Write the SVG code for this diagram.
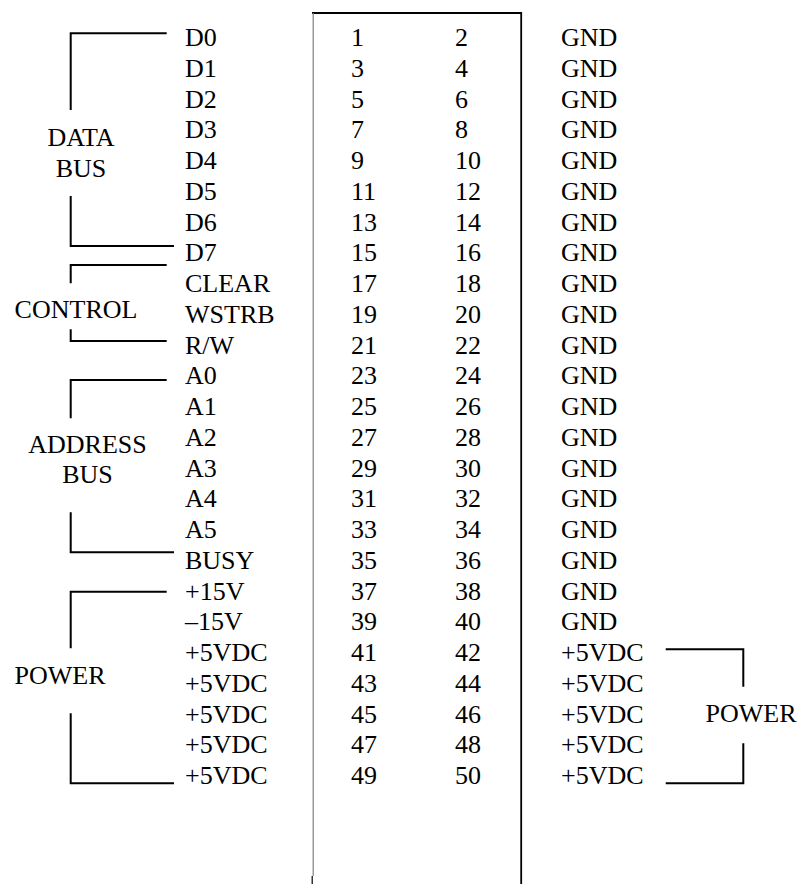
<svg xmlns="http://www.w3.org/2000/svg" width="799" height="884" viewBox="0 0 799 884">
<style>
text{font-family:"Liberation Serif","Times New Roman",serif;font-size:26px;fill:#000}
.c{text-anchor:middle}
.br{fill:none;stroke:#000;stroke-width:2}
</style>
<rect width="799" height="884" fill="#fff"/>
<g id="connector">
<path d="M312 13H522" stroke="#000" stroke-width="2" fill="none"/>
<path d="M313.2 13V876" stroke="#808080" stroke-width="1.2" fill="none"/>
<path d="M521.2 12V884" stroke="#000" stroke-width="1.8" fill="none"/>
<path d="M312.2 876V884" stroke="#000" stroke-width="1.2" fill="none"/>
<g id="pins-odd">
<text x="351" y="46">1</text><text x="351" y="76.75">3</text><text x="351" y="107.5">5</text><text x="351" y="138.25">7</text><text x="351" y="169">9</text>
<text x="351" y="199.75">11</text><text x="351" y="230.5">13</text><text x="351" y="261.25">15</text><text x="351" y="292">17</text><text x="351" y="322.75">19</text>
<text x="351" y="353.5">21</text><text x="351" y="384.25">23</text><text x="351" y="415">25</text><text x="351" y="445.75">27</text><text x="351" y="476.5">29</text>
<text x="351" y="507.25">31</text><text x="351" y="538">33</text><text x="351" y="568.75">35</text><text x="351" y="599.5">37</text><text x="351" y="630.25">39</text>
<text x="351" y="661">41</text><text x="351" y="691.75">43</text><text x="351" y="722.5">45</text><text x="351" y="753.25">47</text><text x="351" y="784">49</text>
</g>
<g id="pins-even">
<text x="455" y="46">2</text><text x="455" y="76.75">4</text><text x="455" y="107.5">6</text><text x="455" y="138.25">8</text><text x="455" y="169">10</text>
<text x="455" y="199.75">12</text><text x="455" y="230.5">14</text><text x="455" y="261.25">16</text><text x="455" y="292">18</text><text x="455" y="322.75">20</text>
<text x="455" y="353.5">22</text><text x="455" y="384.25">24</text><text x="455" y="415">26</text><text x="455" y="445.75">28</text><text x="455" y="476.5">30</text>
<text x="455" y="507.25">32</text><text x="455" y="538">34</text><text x="455" y="568.75">36</text><text x="455" y="599.5">38</text><text x="455" y="630.25">40</text>
<text x="455" y="661">42</text><text x="455" y="691.75">44</text><text x="455" y="722.5">46</text><text x="455" y="753.25">48</text><text x="455" y="784">50</text>
</g>
</g>
<g id="left-signals">
<text x="185" y="46">D0</text><text x="185" y="76.75">D1</text><text x="185" y="107.5">D2</text><text x="185" y="138.25">D3</text><text x="185" y="169">D4</text>
<text x="185" y="199.75">D5</text><text x="185" y="230.5">D6</text><text x="185" y="261.25">D7</text><text x="185" y="292">CLEAR</text><text x="185" y="322.75">WSTRB</text>
<text x="185" y="353.5">R/W</text><text x="185" y="384.25">A0</text><text x="185" y="415">A1</text><text x="185" y="445.75">A2</text><text x="185" y="476.5">A3</text>
<text x="185" y="507.25">A4</text><text x="185" y="538">A5</text><text x="185" y="568.75">BUSY</text><text x="185" y="599.5">+15V</text><text x="185" y="630.25">–15V</text>
<text x="185" y="661">+5VDC</text><text x="185" y="691.75">+5VDC</text><text x="185" y="722.5">+5VDC</text><text x="185" y="753.25">+5VDC</text><text x="185" y="784">+5VDC</text>
</g>
<g id="right-signals">
<text x="561" y="46">GND</text><text x="561" y="76.75">GND</text><text x="561" y="107.5">GND</text><text x="561" y="138.25">GND</text><text x="561" y="169">GND</text>
<text x="561" y="199.75">GND</text><text x="561" y="230.5">GND</text><text x="561" y="261.25">GND</text><text x="561" y="292">GND</text><text x="561" y="322.75">GND</text>
<text x="561" y="353.5">GND</text><text x="561" y="384.25">GND</text><text x="561" y="415">GND</text><text x="561" y="445.75">GND</text><text x="561" y="476.5">GND</text>
<text x="561" y="507.25">GND</text><text x="561" y="538">GND</text><text x="561" y="568.75">GND</text><text x="561" y="599.5">GND</text><text x="561" y="630.25">GND</text>
<text x="561" y="661">+5VDC</text><text x="561" y="691.75">+5VDC</text><text x="561" y="722.5">+5VDC</text><text x="561" y="753.25">+5VDC</text><text x="561" y="784">+5VDC</text>
</g>
<g id="data-bus"><text class="c" x="81" y="145.5">DATA</text><text class="c" x="81" y="176.5">BUS</text></g>
<g id="control"><text class="c" x="76" y="318">CONTROL</text></g>
<g id="address-bus"><text class="c" x="87.5" y="453">ADDRESS</text><text class="c" x="87.5" y="483.3">BUS</text></g>
<g id="power-left"><text class="c" x="60" y="684">POWER</text></g>
<g id="power-right"><text class="c" x="751" y="721.7">POWER</text></g>
<g id="connectors">
<path class="br" d="M166.7 33.3H70.7V110"/>
<path class="br" d="M70.7 196V246H174"/>
<path class="br" d="M166.7 265H70.7V283.3"/>
<path class="br" d="M70.7 329.3V341H166.7"/>
<path class="br" d="M166.7 380H70.7V418.3"/>
<path class="br" d="M70.7 512.3V552.3H174"/>
<path class="br" d="M166.7 591.7H70.7V648.3"/>
<path class="br" d="M70.7 713.3V783.3H174"/>
<path class="br" d="M665.7 649.3H743.3V686.7"/>
<path class="br" d="M743.3 743.3V783.3H665.7"/>
</g>
</svg>
